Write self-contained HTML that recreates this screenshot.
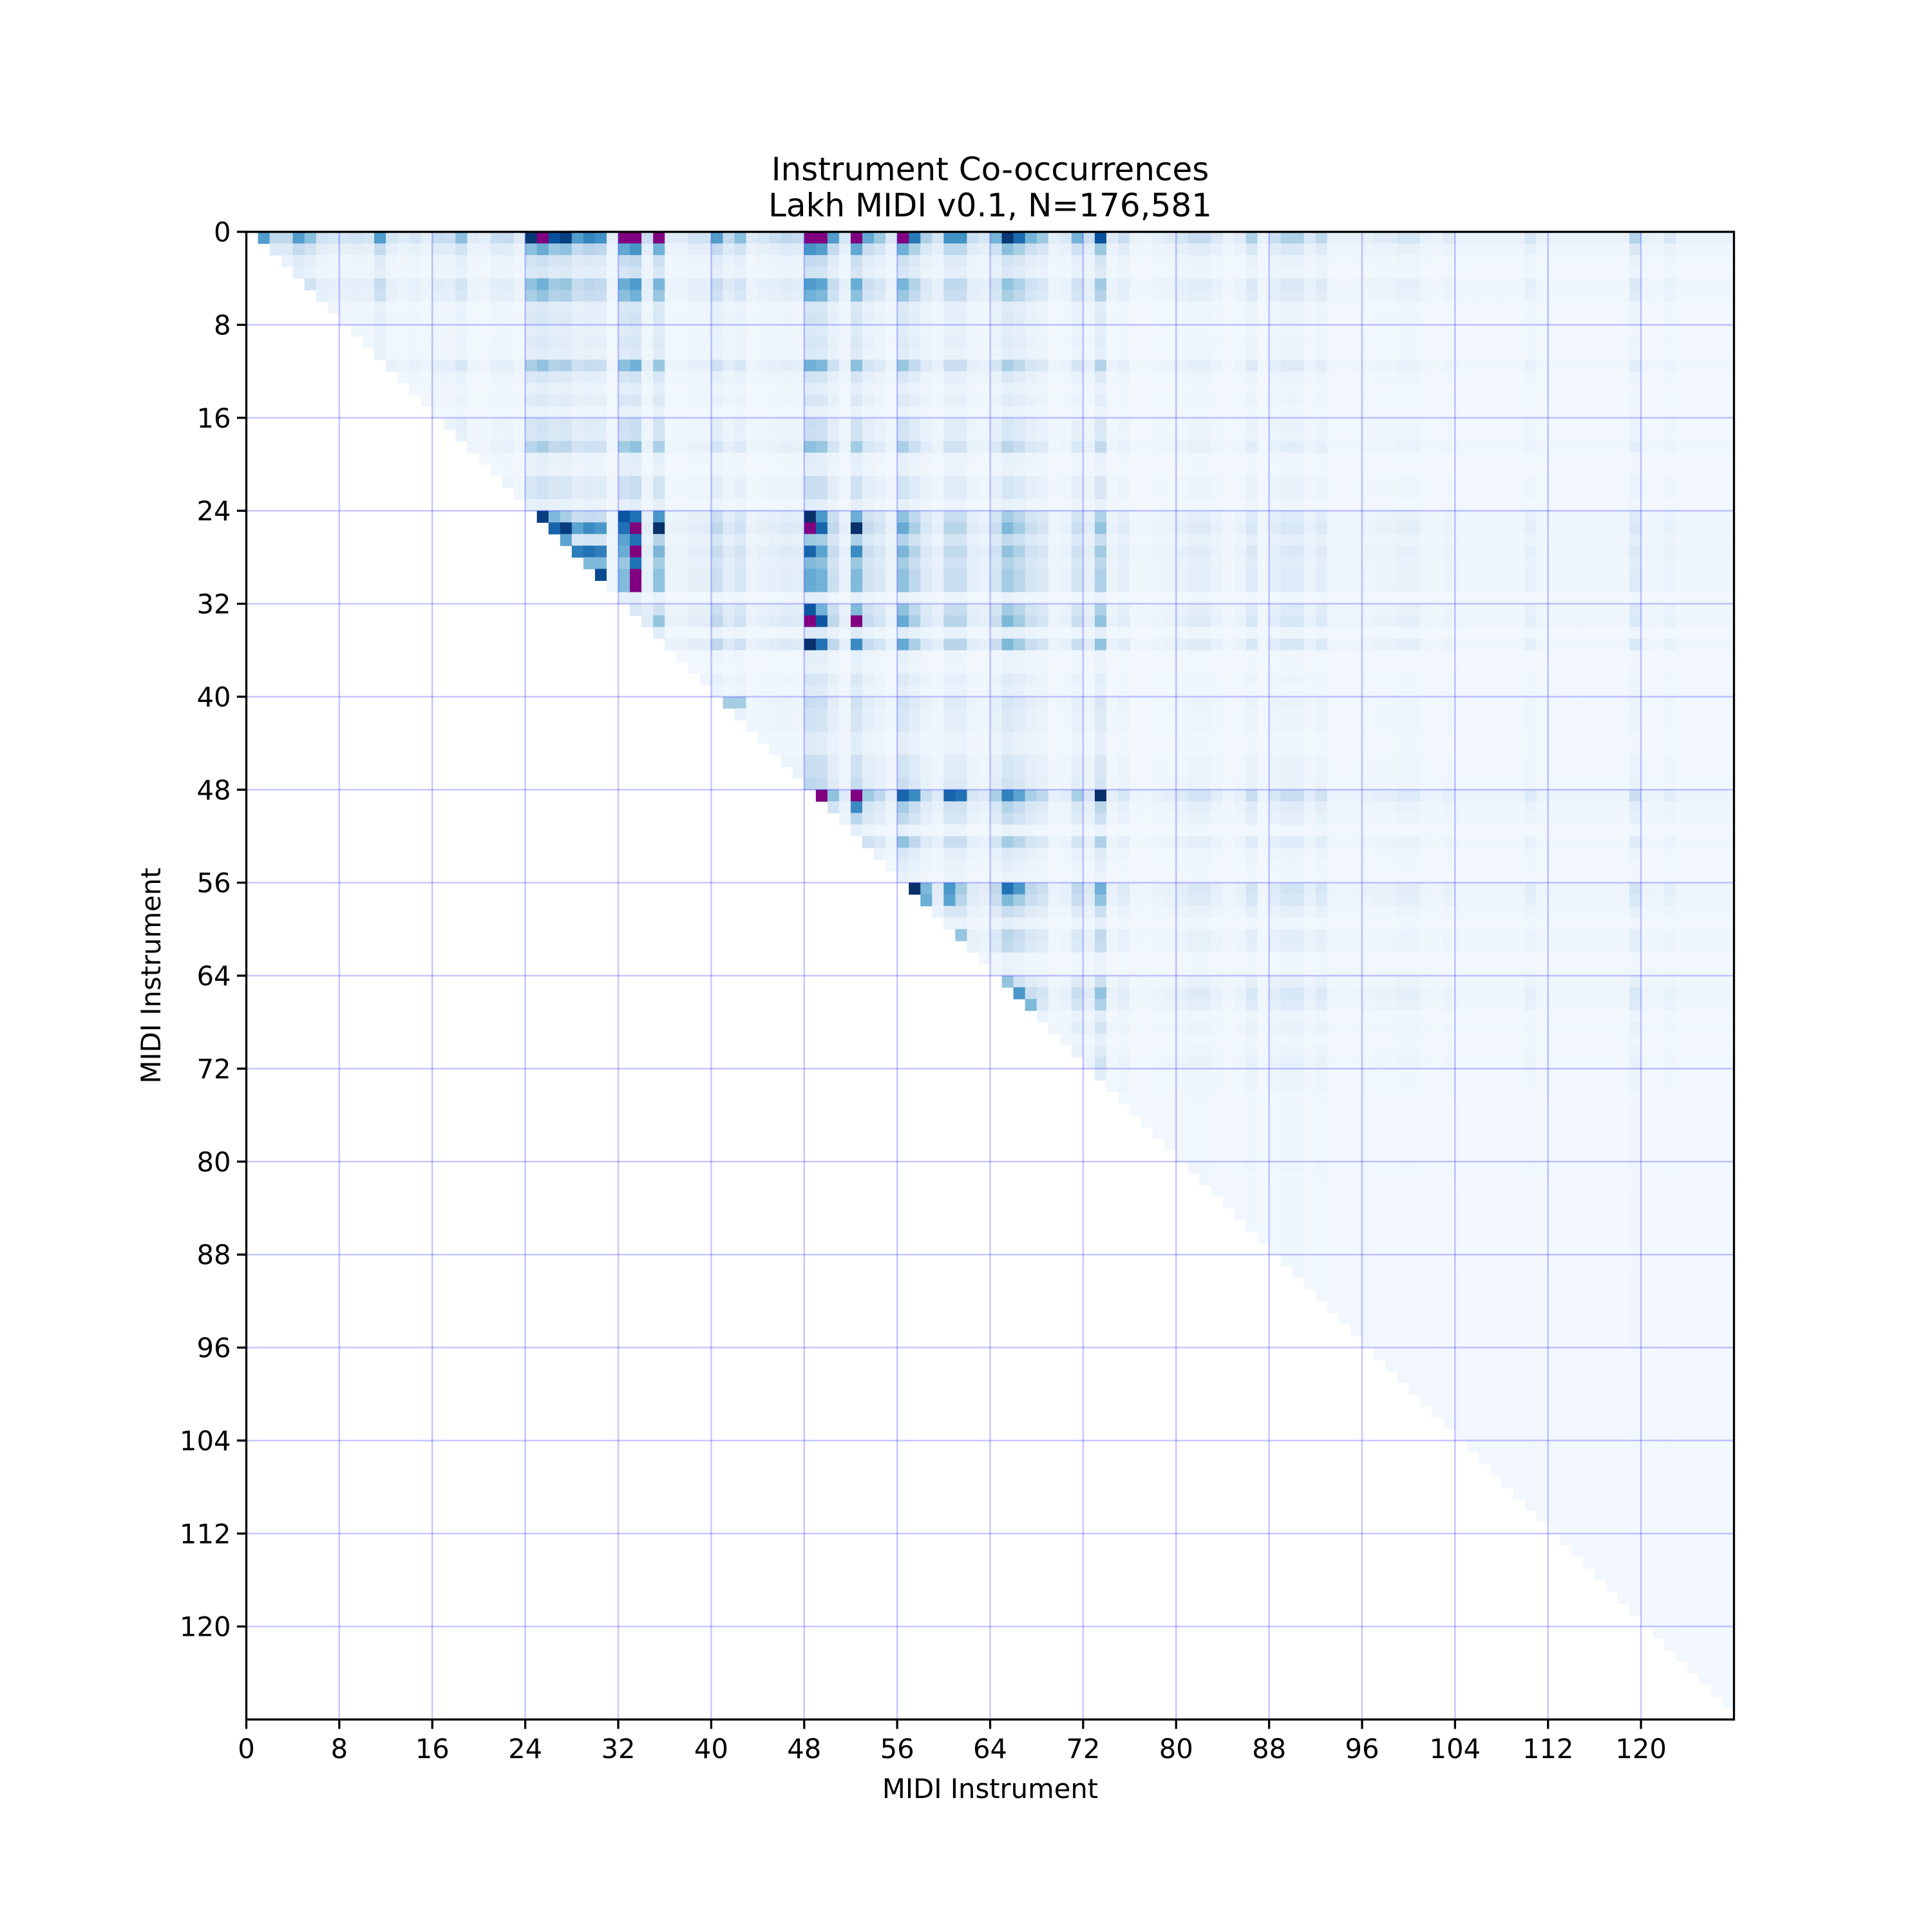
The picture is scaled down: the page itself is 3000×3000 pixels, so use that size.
<!DOCTYPE html>
<html><head><meta charset="utf-8"><style>
html,body{margin:0;padding:0;background:#fff;}
svg{display:block;}
text{font-family:"DejaVu Sans","Liberation Sans",sans-serif;fill:#000;}
</style></head>
<body>
<svg id="chart" width="3000" height="3000" xmlns="http://www.w3.org/2000/svg">
<rect width="3000" height="3000" fill="#fff"/>
<text x="1537.5" y="280" font-size="50" text-anchor="middle">Instrument Co-occurrences</text>
<text x="1537.5" y="336" font-size="50" text-anchor="middle">Lakh MIDI v0.1, N=176,581</text>
<g id="cells"></g>
<g id="grid"></g>
<rect x="382.5" y="360" width="2310" height="2310" fill="none" stroke="#000" stroke-width="3.3"/>
<g id="ticks"></g>
<text x="1537.5" y="2792" font-size="41.7" text-anchor="middle">MIDI Instrument</text>
<text x="0" y="0" font-size="41.7" text-anchor="middle" transform="translate(249,1515) rotate(-90)">MIDI Instrument</text>
</svg>
<script>
// ---- data ----
const instruments = Array.from({length:128},(_,k)=>k);
const tickValues = [0,8,16,24,32,40,48,56,64,72,80,88,96,104,112,120];
// row weights (instrument as first index)
const rowWeight = [
1.0,.42,.17,.12,.4,.33,.1,.12,.08,.1,.08,.33,.12,.06,.1,.04,
.15,.14,.28,.06,.05,.15,.15,.06,.35,.45,.25,.4,.3,.35,.35,.05,
.35,.45,.08,.45,.05,.04,.1,.07,.15,.12,.12,.07,.07,.15,.15,.18,
.7,.3,.22,.05,.35,.12,.08,.05,.55,.45,.22,.07,.28,.25,.05,.05,
.22,.45,.35,.1,.18,.07,.12,.2,.1,.1,.05,.04,.04,.04,.04,.04,
.08,.05,.04,.04,.04,.04,.04,.04,.05,.04,.04,.04,.04,.04,.04,.04,
.03,.03,.03,.03,.03,.03,.03,.03,.03,.03,.03,.03,.03,.03,.03,.03,
.03,.03,.03,.03,.03,.03,.03,.05,.03,.03,.03,.03,.03,.03,.03,.03];
// column weights (instrument as second index)
const colWeight = [
0,.55,.25,.25,.55,.4,.18,.15,.15,.18,.15,.55,.15,.1,.15,.08,
.22,.2,.4,.1,.08,.2,.22,.1,.95,1.15,.85,.92,.55,.65,.6,.08,
1.2,1.4,.2,1.1,.1,.1,.18,.18,.55,.25,.4,.1,.15,.2,.25,.22,
1.4,1.3,.55,.15,1.2,.5,.35,.12,1.1,.7,.3,.15,.6,.6,.2,.15,
.45,.95,.75,.45,.35,.08,.12,.45,.2,.85,.1,.2,.05,.04,.08,.1,
.15,.22,.22,.12,.05,.1,.3,.05,.2,.3,.3,.12,.25,.06,.05,.06,
.08,.1,.1,.15,.15,.06,.05,.1,.05,.05,.05,.05,.05,.05,.15,.05,
.05,.05,.05,.05,.05,.05,.05,.28,.06,.05,.12,.05,.05,.05,.05,.05];
// explicit cell values [row, col, value]
const cellOverrides = [
[24,25,.95],[24,26,.45],[24,32,.85],[24,33,.75],[24,35,.6],[24,48,1.0],[24,49,.6],[24,52,.5],
[25,26,.8],[25,27,.95],[25,28,.55],[25,29,.65],[25,30,.6],[25,32,.75],[25,33,1.2],[25,35,1.0],[25,48,1.2],[25,49,.8],[25,52,1.0],
[26,27,.55],[26,32,.55],[26,33,.75],[27,28,.7],[27,29,.75],[27,30,.7],[27,33,1.2],[27,48,.8],[27,52,.65],
[28,29,.45],[28,30,.45],[28,33,.75],[29,30,.9],[29,33,1.2],[30,33,1.2],
[32,33,.15],[32,34,.1],[32,35,.2],[33,34,.12],[33,35,.4],
[32,48,.85],[33,48,1.2],[33,49,.85],[33,52,1.2],[35,48,1.0],[35,49,.75],[35,52,.65],
[40,41,.35],[40,42,.35],[48,49,1.2],[48,52,1.2],[48,57,.65],[48,60,.8],[48,61,.75],[48,73,1.0],
[49,52,.65],[56,57,1.0],[56,58,.45],[56,60,.6],[56,65,.75],[56,66,.6],[57,58,.5],[57,60,.55],[60,61,.4],[64,65,.4],[65,66,.6],[66,67,.45]];

// ---- rendering ----
const NS='http://www.w3.org/2000/svg';
const X0=382.5,Y0=360,S=2310,N=128,C=S/N;
const xPos=v=>X0+v*C, yPos=v=>Y0+v*C;
const stops=[[247,251,255],[222,235,247],[198,219,239],[158,202,225],[107,174,214],[66,146,198],[33,113,181],[8,81,156],[8,48,107]];
function blues(v){
  if(v>1) return '#800080';
  v=Math.max(0,v); const t=v*8; const k=Math.min(7,Math.floor(t)); const f=t-k;
  const a=stops[k],b=stops[k+1];
  return 'rgb('+a.map((c,q)=>Math.round(c+(b[q]-c)*f)).join(',')+')';
}
const M={};
cellOverrides.forEach(o=>{M[o[0]+'_'+o[1]]=o[2];});
const cells=document.getElementById('cells');
instruments.forEach(i=>{
  instruments.forEach(j=>{
    if(j<=i) return;
    let v=M[i+'_'+j]; if(v===undefined) v=Math.min(1,0.025+rowWeight[i]*colWeight[j]);
    const r=document.createElementNS(NS,'rect');
    r.setAttribute('x',xPos(j).toFixed(2)); r.setAttribute('y',yPos(i).toFixed(2));
    r.setAttribute('width',(C+0.6).toFixed(2)); r.setAttribute('height',(C+0.6).toFixed(2));
    r.setAttribute('fill',(i===0&&colWeight[j]>1)?'#800080':blues(v));
    
    
    cells.appendChild(r);
  });
});
const grid=document.getElementById('grid'), ticks=document.getElementById('ticks');
tickValues.forEach(t=>{
  const gv=document.createElementNS(NS,'line');
  gv.setAttribute('x1',xPos(t));gv.setAttribute('x2',xPos(t));gv.setAttribute('y1',Y0);gv.setAttribute('y2',Y0+S);
  gv.setAttribute('stroke','rgba(0,0,255,0.22)');gv.setAttribute('stroke-width','2.5');
  
  
  grid.appendChild(gv);
  const gh=document.createElementNS(NS,'line');
  gh.setAttribute('y1',yPos(t));gh.setAttribute('y2',yPos(t));gh.setAttribute('x1',X0);gh.setAttribute('x2',X0+S);
  gh.setAttribute('stroke','rgba(0,0,255,0.22)');gh.setAttribute('stroke-width','2.5');
  
  
  grid.appendChild(gh);
  const tx=document.createElementNS(NS,'line');
  tx.setAttribute('x1',xPos(t));tx.setAttribute('x2',xPos(t));tx.setAttribute('y1',Y0+S);tx.setAttribute('y2',Y0+S+14.6);
  tx.setAttribute('stroke','#000');tx.setAttribute('stroke-width','3.3');
  
  
  ticks.appendChild(tx);
  const ty=document.createElementNS(NS,'line');
  ty.setAttribute('y1',yPos(t));ty.setAttribute('y2',yPos(t));ty.setAttribute('x1',X0-14.6);ty.setAttribute('x2',X0);
  ty.setAttribute('stroke','#000');ty.setAttribute('stroke-width','3.3');
  
  
  ticks.appendChild(ty);
  const lx=document.createElementNS(NS,'text');
  lx.setAttribute('x',xPos(t));lx.setAttribute('y',Y0+S+60);lx.setAttribute('font-size','41.7');lx.setAttribute('text-anchor','middle');
  lx.textContent=t;
  
  
  ticks.appendChild(lx);
  const ly=document.createElementNS(NS,'text');
  ly.setAttribute('x',X0-24);ly.setAttribute('y',yPos(t)+15);ly.setAttribute('font-size','41.7');ly.setAttribute('text-anchor','end');
  ly.textContent=t;
  
  
  ticks.appendChild(ly);
});
</script>
</body></html>
